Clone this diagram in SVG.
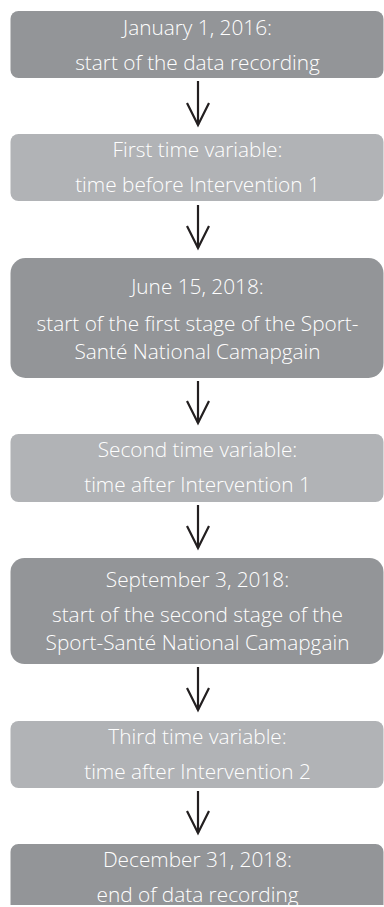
<svg xmlns="http://www.w3.org/2000/svg" width="384" height="907" viewBox="0 0 384 907">
  <style>
    .dark { fill: #939598; }
    .light { fill: #b1b3b6; }
    .label { font-family: "Open Sans", "Liberation Sans", sans-serif; font-size: 20.8px; font-weight: 300; fill: #ffffff; text-anchor: middle; }
    .conn { stroke: #231f20; stroke-width: 2.2; fill: none; marker-end: url(#vhead); }
  </style>
  <defs>
    <marker id="vhead" markerUnits="userSpaceOnUse" viewBox="-24 -13 27 26" markerWidth="27" markerHeight="26" refX="0" refY="0" orient="auto" overflow="visible">
      <path d="M-22,-11 L0,0 L-22,11" fill="none" stroke="#231f20" stroke-width="2.2" stroke-linejoin="miter"/>
    </marker>
  </defs>

  <rect width="384" height="907" fill="#ffffff"/>

  <g id="start-recording">
    <rect class="dark" x="10.5" y="11" width="373" height="67" rx="8"/>
    <text class="label" x="197.5" y="35">January 1, 2016:</text>
    <text class="label" x="197.5" y="70">start of the data recording</text>
  </g>

  <g id="time-variable-1">
    <rect class="light" x="10.5" y="134" width="373" height="67" rx="8"/>
    <text class="label" x="197.5" y="157">First time variable:</text>
    <text class="label" x="197.5" y="192">time before Intervention 1</text>
  </g>

  <g id="campaign-stage-1">
    <rect class="dark" x="10.5" y="258" width="373" height="120" rx="15"/>
    <text class="label" x="197.5" y="294">June 15, 2018:</text>
    <text class="label" x="197.5" y="331">start of the first stage of the Sport-</text>
    <text class="label" x="197.5" y="359">Santé National Camapgain</text>
  </g>

  <g id="time-variable-2">
    <rect class="light" x="10.5" y="434" width="373" height="68" rx="8"/>
    <text class="label" x="197.5" y="457">Second time variable:</text>
    <text class="label" x="197.5" y="492">time after Intervention 1</text>
  </g>

  <g id="campaign-stage-2">
    <rect class="dark" x="10.5" y="558" width="373" height="106" rx="14"/>
    <text class="label" x="197.5" y="587">September 3, 2018:</text>
    <text class="label" x="197.5" y="622">start of the second stage of the</text>
    <text class="label" x="197.5" y="650">Sport-Santé National Camapgain</text>
  </g>

  <g id="time-variable-3">
    <rect class="light" x="10.5" y="721" width="373" height="67" rx="8"/>
    <text class="label" x="197.5" y="744">Third time variable:</text>
    <text class="label" x="197.5" y="779">time after Intervention 2</text>
  </g>

  <g id="end-recording">
    <path class="dark" d="M18.5,844 H375.5 A8,8 0 0 1 383.5,852 V905 H10.5 V852 A8,8 0 0 1 18.5,844 Z"/>
    <text class="label" x="197.5" y="867">December 31, 2018:</text>
    <text class="label" x="197.5" y="902">end of data recording</text>
  </g>

  <g id="connectors">
    <line class="conn" x1="198" y1="81" x2="198" y2="125"/>
    <line class="conn" x1="198" y1="205" x2="198" y2="248"/>
    <line class="conn" x1="198" y1="381" x2="198" y2="423"/>
    <line class="conn" x1="198" y1="505" x2="198" y2="548"/>
    <line class="conn" x1="198" y1="667" x2="198" y2="710"/>
    <line class="conn" x1="198" y1="791" x2="198" y2="833"/>
  </g>
</svg>
